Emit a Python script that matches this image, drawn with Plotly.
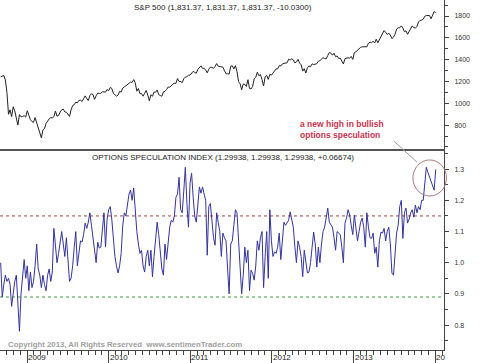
import pandas as pd
import plotly.graph_objects as go

# ---------------- data (weekly closes, Fridays) ----------------
start_date = "2008-09-05"

spx_2008 = [1242, 1252, 1255, 1213, 1099, 899, 940, 877, 968, 930, 873, 800, 896, 876, 879, 887, 873]
spx_2009 = [932, 890, 850, 832, 826, 869, 827, 770, 735, 683, 756, 768, 816, 842, 857, 869, 866,
            877, 929, 882, 887, 919, 940, 946, 921, 918, 896, 879, 940, 979, 987, 1010, 1004, 1026,
            1029, 1016, 1042, 1068, 1044, 1025, 1071, 1087, 1080, 1036, 1069, 1093, 1091, 1091,
            1106, 1106, 1102, 1126]
spx_2010 = [1115, 1145, 1136, 1092, 1074, 1066, 1075, 1109, 1104, 1139, 1150, 1160, 1167, 1178,
            1194, 1192, 1217, 1187, 1111, 1136, 1088, 1089, 1065, 1092, 1117, 1076, 1023, 1078,
            1065, 1103, 1102, 1122, 1079, 1071, 1065, 1105, 1110, 1126, 1149, 1147, 1166, 1176,
            1183, 1183, 1226, 1200, 1200, 1189, 1225, 1240, 1244, 1257, 1258]
spx_2011 = [1272, 1293, 1283, 1276, 1311, 1329, 1343, 1320, 1321, 1304, 1279, 1313, 1332, 1329,
            1320, 1337, 1364, 1340, 1338, 1333, 1331, 1300, 1271, 1271, 1268, 1340, 1344, 1316,
            1345, 1292, 1199, 1179, 1124, 1177, 1174, 1154, 1216, 1136, 1131, 1155, 1224, 1238,
            1285, 1253, 1263, 1216, 1159, 1244, 1255, 1219, 1265, 1258]
spx_2012 = [1278, 1289, 1315, 1316, 1345, 1342, 1361, 1366, 1370, 1371, 1404, 1397, 1408, 1398,
            1370, 1379, 1403, 1369, 1353, 1295, 1318, 1278, 1325, 1343, 1335, 1362, 1355, 1357,
            1363, 1386, 1391, 1405, 1418, 1411, 1407, 1438, 1466, 1460, 1441, 1460, 1428, 1433,
            1411, 1414, 1380, 1360, 1409, 1416, 1418, 1413, 1430, 1402]
spx_2013 = [1466, 1472, 1486, 1503, 1513, 1518, 1520, 1516, 1518, 1551, 1561, 1556, 1569, 1553,
            1588, 1555, 1582, 1614, 1634, 1667, 1650, 1631, 1643, 1626, 1593, 1606, 1632, 1680,
            1692, 1692, 1710, 1691, 1656, 1664, 1633, 1655, 1688, 1710, 1692, 1691, 1703, 1745,
            1760, 1762, 1771, 1798, 1804, 1806, 1805, 1775, 1818, 1841]
spx_2014 = [1831.37]

osi_a = [1.00, 0.89, 0.93, 0.96, 0.94, 0.95, 0.93, 0.86, 0.90, 0.94,
         0.96, 0.88, 0.78, 0.90, 0.97, 1.01, 0.95, 0.99, 0.91, 0.97,
         0.92, 0.94, 0.99, 1.06, 0.98, 0.96, 0.92, 0.96, 0.93, 0.91,
         0.96, 0.98, 0.94, 0.97, 1.11, 1.06, 1.00, 1.03, 1.07, 1.10,
         1.06, 1.02, 1.08, 1.01, 0.94, 0.95, 0.99, 1.05, 1.10]
osi_b = [0.99, 1.04, 1.07, 1.066, 1.09, 1.127, 1.11, 1.13, 1.16, 1.12,
         1.08, 1.04, 1.00, 1.066, 1.047, 1.05, 1.10, 1.16, 1.05, 1.14,
         1.17, 1.18, 1.14, 1.08, 1.02, 0.99, 0.967, 0.99, 1.03, 1.12,
         1.16, 1.15, 1.19, 1.22, 1.233, 1.20, 1.24, 1.15, 1.10, 1.06,
         1.03, 1.04, 0.99, 0.97, 1.02, 1.04, 0.99]
osi_c = [1.04, 0.955, 1.02, 1.08, 1.13, 1.09, 1.03, 0.98, 0.96, 1.06,
         1.01, 1.07, 1.114, 1.136, 1.13, 1.15, 1.21, 1.22, 1.274, 1.17,
         1.16, 1.23, 1.306, 1.19, 1.114, 1.255, 1.287, 1.21, 1.15, 1.13,
         1.20, 1.243, 1.223, 1.243, 1.22, 1.20, 1.024, 1.18, 1.19, 1.14,
         1.08, 1.056, 1.16, 1.13, 1.10, 1.02, 1.095]
osi_d = [1.08, 1.07, 0.98, 0.90, 1.06, 1.07, 1.12, 1.17, 1.16, 1.07,
         1.00, 0.90, 0.96, 1.05, 1.00, 1.04, 0.91, 0.976, 0.966, 0.944,
         0.99, 1.07, 1.04, 1.08, 1.10, 0.92, 1.02, 1.10, 0.95, 1.17,
         1.07, 1.02, 1.035, 1.03, 1.05, 1.095, 1.01, 1.08, 1.13, 1.12,
         1.13, 1.136, 1.163, 1.136, 1.114, 1.05, 1.00]
osi_e = [1.07, 1.05, 1.02, 0.955, 1.04, 1.01, 0.967, 0.97, 1.00, 1.05,
         1.098, 1.06, 0.986, 1.05, 1.00, 1.06, 1.10, 1.114, 1.146, 1.175,
         1.13, 1.12, 1.114, 1.08, 1.04, 1.10, 1.095, 1.09, 1.05, 1.00,
         1.127, 1.143, 1.17, 1.153, 1.12, 1.09, 1.153, 1.114, 1.07, 1.10,
         1.13, 1.143, 1.114, 1.05, 1.16, 1.114, 1.08]
osi_f = [1.078, 1.095, 1.03, 1.05, 0.986, 1.07, 1.098, 1.095, 1.11, 1.07,
         1.10, 1.114, 1.06, 0.967, 0.96, 1.04, 1.095, 1.12, 1.18, 1.20,
         1.078, 1.16, 1.175, 1.127, 1.14, 1.16, 1.17, 1.146, 1.185, 1.16,
         1.18, 1.17, 1.20, 1.20, 1.243, 1.306, 1.29, 1.275, 1.26, 1.245,
         1.23264, 1.29938]

upper_band = 1.15
lower_band = 0.89

spx_ticks = [800, 1000, 1200, 1400, 1600, 1800]
osi_ticks = [0.8, 0.9, 1.0, 1.1, 1.2, 1.3]
year_ticks = ["2009-01-01", "2010-01-01", "2011-01-01", "2012-01-01", "2013-01-01", "2014-01-01"]
year_labels = ["2009", "2010", "2011", "2012", "2013", "20"]

spx = spx_2008 + spx_2009 + spx_2010 + spx_2011 + spx_2012 + spx_2013 + spx_2014
osi = osi_a + osi_b + osi_c + osi_d + osi_e + osi_f
dates = pd.date_range(start=start_date, periods=len(spx), freq="W-FRI")
assert len(spx) == len(osi)

FONT = "Arial, Liberation Sans, sans-serif"
x_range = ["2008-09-02", "2014-02-09"]

fig = go.Figure()
fig.add_trace(go.Scatter(x=dates, y=spx, mode="lines", xaxis="x", yaxis="y",
                         line=dict(color="#222222", width=1), hoverinfo="skip"))
fig.add_trace(go.Scatter(x=dates, y=osi, mode="lines", xaxis="x2", yaxis="y2",
                         line=dict(color="#34349c", width=1), hoverinfo="skip"))

for val, col in [(upper_band, "#a84040"), (lower_band, "#3c9c3c")]:
    fig.add_shape(type="line", xref="paper", yref="y2", x0=0, x1=1, y0=val, y1=val,
                  line=dict(color=col, width=1, dash="dot"), layer="below")

# annotation pointer + circle (paper coords)
fig.add_shape(type="line", xref="paper", yref="paper", x0=0.887, y0=0.597, x1=0.939, y1=0.537,
              line=dict(color="#9a9a9a", width=1))
fig.add_shape(type="circle", xref="paper", yref="paper", x0=0.930, x1=1.0056, y0=0.440, y1=0.543,
              line=dict(color="#b07a7a", width=1))

annos = [
    dict(text="S&P 500 (1,831.37, 1,831.37, 1,831.37, -10.0300)", x=0.503, y=0.980,
         font=dict(size=8, color="#222222", family=FONT), xanchor="center"),
    dict(text="OPTIONS SPECULATION INDEX (1.29938, 1.29938, 1.29938, +0.06674)", x=0.502, y=0.551,
         font=dict(size=8, color="#222222", family=FONT), xanchor="center"),
    dict(text="<b>a new high in bullish<br>options speculation</b>", x=0.672, y=0.631, align="left",
         font=dict(size=8.5, color="#c8324e", family=FONT), xanchor="left"),
    dict(text="<b>Copyright 2013, All Rights Reserved  www.sentimenTrader.com</b>", x=0.014, y=0.017,
         font=dict(size=7.8, color="#a0a0a0", family=FONT), xanchor="left"),
]
for a in annos:
    fig.add_annotation(xref="paper", yref="paper", showarrow=False, yanchor="middle", **a)

for v, t in zip(year_ticks, year_labels):
    fig.add_annotation(x=v, xref="x2", y=-0.0214, yref="paper", text=t, showarrow=False,
                       xanchor="left", yanchor="middle", xshift=-1,
                       font=dict(size=8, color="#222222", family=FONT))

fig.update_layout(
    width=480, height=363,
    margin=dict(l=0, r=36, t=0, b=13),
    paper_bgcolor="white", plot_bgcolor="white",
    showlegend=False,
    font=dict(family=FONT, size=7, color="#333333"),
    xaxis=dict(domain=[0, 1], anchor="y", range=x_range, type="date", showgrid=False,
               zeroline=False, showticklabels=False, ticks="", showline=True,
               linecolor="#555555", linewidth=1.5),
    yaxis=dict(domain=[0.574, 1], anchor="x", side="right", range=[580, 1947],
               tickvals=spx_ticks, showgrid=False, zeroline=False, showline=True,
               linecolor="#444444", linewidth=1, ticks="outside", ticklen=4,
               tickcolor="#444444", ticklabelstandoff=4,
               tickfont=dict(size=7, color="#333333", family=FONT),
               minor=dict(dtick=100, ticks="outside", ticklen=3, tickcolor="#444444")),
    xaxis2=dict(domain=[0, 1], anchor="y2", range=x_range, type="date", showgrid=False,
                zeroline=False, showticklabels=False, showline=True, linecolor="#444444",
                linewidth=1, ticks="outside", tickvals=year_ticks, ticklen=12,
                tickcolor="#444444",
                minor=dict(dtick="M1", tick0="2009-01-01", ticks="outside", ticklen=4,
                           tickcolor="#444444")),
    yaxis2=dict(domain=[0, 0.571], anchor="x2", side="right", range=[0.72, 1.361],
                tickvals=osi_ticks, ticktext=["0.8", "0.9", "1.0", "1.1", "1.2", "1.3"],
                showgrid=False, zeroline=False, showline=True, linecolor="#444444",
                linewidth=1, ticks="outside", ticklen=4, tickcolor="#444444",
                ticklabelstandoff=4,
                tickfont=dict(size=7, color="#333333", family=FONT),
                minor=dict(dtick=0.05, ticks="outside", ticklen=3, tickcolor="#444444")),
)

fig.write_html("out.html", config={"displayModeBar": False},
               post_script="document.body.style.margin='0';document.body.style.padding='0';")
